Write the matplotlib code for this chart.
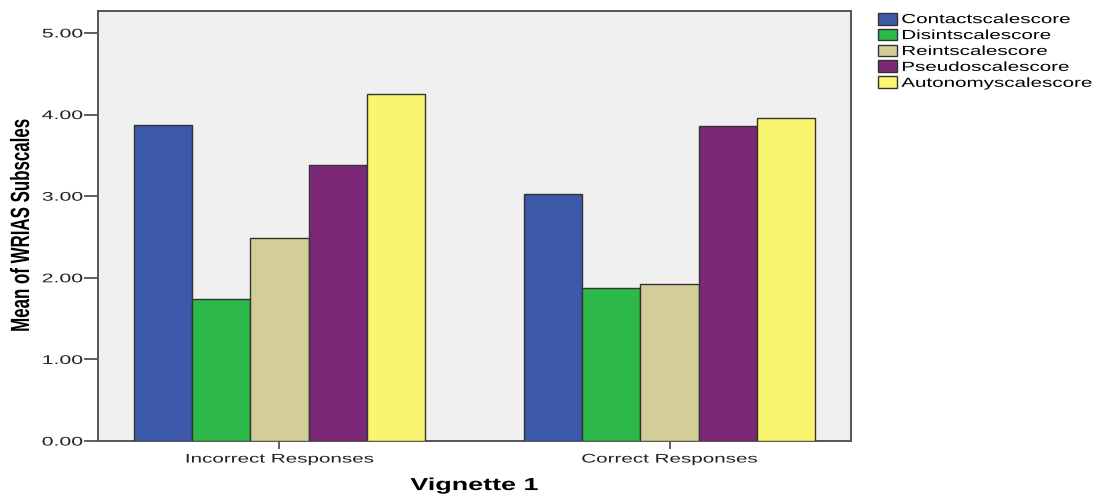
import matplotlib
matplotlib.use("Agg")
import matplotlib.pyplot as plt
import numpy as np
from matplotlib.patheffects import AbstractPathEffect
from matplotlib.transforms import Affine2D

# datos
groups = ["Incorrect Responses", "Correct Responses"]
series = ["Contactscalescore", "Disintscalescore", "Reintscalescore",
          "Pseudoscalescore", "Autonomyscalescore"]
contact = [3.87, 3.03]
disint = [1.74, 1.87]
reint = [2.49, 1.93]
pseudo = [3.38, 3.86]
autonomy = [4.25, 3.96]
colors = ["#3C58A8", "#2DB84A", "#D3CE97", "#7B2879", "#FAF56E"]
yticks = [0, 1, 2, 3, 4, 5]

plt.rcParams["font.family"] = ["Liberation Sans", "DejaVu Sans"]


class Stretch(AbstractPathEffect):
    """Estira el texto en su propia direccion (la imagen original esta deformada)"""

    def __init__(self, sx, anchor="center"):
        super().__init__()
        self.sx = sx
        self.anchor = anchor

    def draw_path(self, renderer, gc, tpath, affine, rgbFace=None):
        xs = tpath.vertices[:, 0]
        if len(xs) == 0:
            return
        if self.anchor == "left":
            cx = xs.min()
        elif self.anchor == "right":
            cx = xs.max()
        else:
            cx = (xs.min() + xs.max()) / 2
        t = Affine2D().translate(-cx, 0).scale(self.sx, 1).translate(cx, 0) + affine
        renderer.draw_path(gc, tpath, t, rgbFace)


fig = plt.figure(figsize=(10.98, 4.95), dpi=100)
ax = fig.add_axes([0.0893, 0.109, 0.6857, 0.869])
ax.set_facecolor("#F0F0F0")

x = np.arange(len(groups))
width = 0.149
values = [contact, disint, reint, pseudo, autonomy]
for i, (name, vals) in enumerate(zip(series, values)):
    offset = (i - 2) * width
    ax.bar(x + offset, vals, width, color=colors[i], edgecolor="#333333",
           linewidth=1.0, label=name, zorder=3)

ax.set_xlim(-0.465, 1.465)
ax.set_ylim(0, 5.27)
ax.set_xticks(x)
ax.set_xticklabels(groups, fontsize=9, color="#222222")
ax.set_yticks(yticks)
ax.set_yticklabels(["%.2f" % t for t in yticks], fontsize=9, color="#222222")
ax.tick_params(axis="x", direction="out", length=6, width=1.2, color="#444444", pad=3)
ax.tick_params(axis="y", direction="out", length=10, width=1.2, color="#444444", pad=1)

for lbl in ax.get_xticklabels():
    lbl.set_path_effects([Stretch(1.65, "center")])
for lbl in ax.get_yticklabels():
    lbl.set_path_effects([Stretch(1.7, "right")])

for s in ax.spines.values():
    s.set_color("#555555")
    s.set_linewidth(1.4)

# etiqueta eje Y (estrecha)
fig.text(22 / 1098, 0.545, "Mean of WRIAS Subscales", rotation=90,
         ha="center", va="center", fontsize=19, fontweight="bold",
         path_effects=[Stretch(0.64, "center")])

xl = ax.set_xlabel("Vignette 1", fontsize=12.5, fontweight="bold", labelpad=9)
xl.set_path_effects([Stretch(1.55, "center")])

leg = fig.legend(loc="upper left", bbox_to_anchor=(0.795, 0.985), frameon=False,
                 fontsize=9.5, handlelength=1.45, handleheight=1.0,
                 handletextpad=0.3, labelspacing=0.19, borderaxespad=0)
for h in leg.legend_handles:
    h.set_edgecolor("#333333")
for t in leg.get_texts():
    t.set_path_effects([Stretch(1.56, "left")])

fig.savefig("out.png", dpi=100)
